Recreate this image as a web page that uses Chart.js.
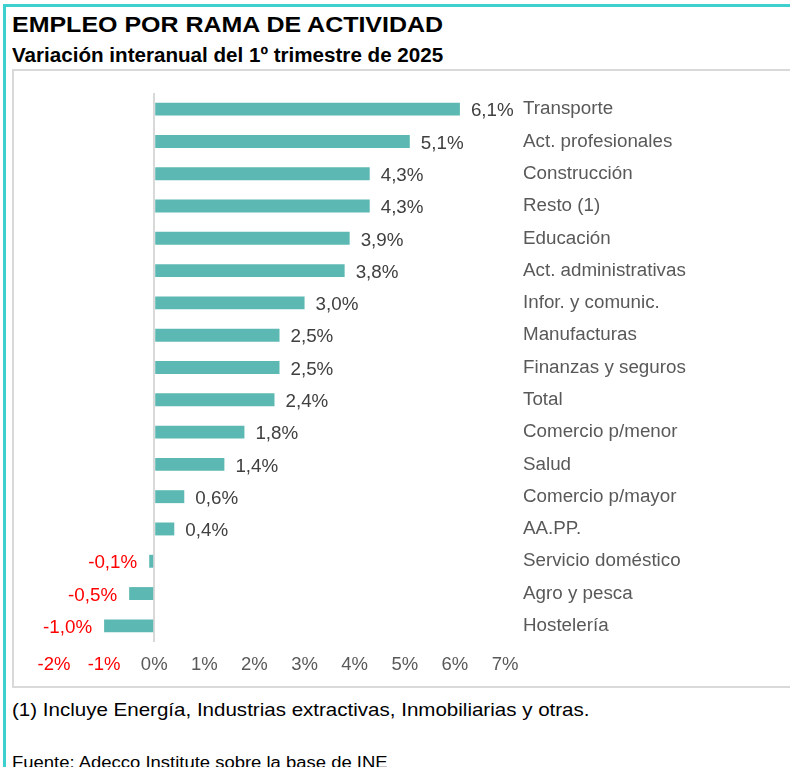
<!DOCTYPE html>
<html>
<head>
    <meta charset="utf-8">
    <title>Empleo por rama de actividad</title>
    <script src="https://cdn.jsdelivr.net/npm/chart.js"></script>
    <style>
        body { margin: 0; width: 790px; height: 767px; overflow: hidden; position: relative; background: #fff;
               font-family: Arial, "Liberation Sans", sans-serif; }
        #frame { position: absolute; left: 3px; top: 4px; width: 820px; height: 820px;
                 border-left: 3px solid #3ecfcf; border-top: 3px solid #3ecfcf; }
        .txt { position: absolute; left: 12px; line-height: 1; color: #000; white-space: nowrap; transform-origin: 0 0; }
        #title { top: 14px; font-size: 22.5px; font-weight: bold; transform: scaleX(1.11); }
        #subtitle { top: 45px; font-size: 20px; font-weight: bold; transform: scaleX(1.03); }
        #box { position: absolute; left: 12px; top: 69px; width: 820px; height: 615px; border: 2px solid #d9d9d9; }
        #myChart { position: absolute; left: 12px; top: 69px; }
        #note { top: 701px; font-size: 18.5px; transform: scaleX(1.11); }
        #source { top: 755px; font-size: 16.8px; transform: scaleX(1.10); }
    </style>
</head>
<body>
    <div id="frame"></div>
    <div id="title" class="txt">EMPLEO POR RAMA DE ACTIVIDAD</div>
    <div id="subtitle" class="txt">Variación interanual del 1º trimestre de 2025</div>
    <div id="box"></div>
    <canvas id="myChart" width="778" height="617"></canvas>
    <div id="note" class="txt">(1) Incluye Energía, Industrias extractivas, Inmobiliarias y otras.</div>
    <div id="source" class="txt">Fuente: Adecco Institute sobre la base de INE</div>

    <script>
        // sectors, top to bottom
        const ramas = ['Transporte', 'Act. profesionales', 'Construcción', 'Resto (1)', 'Educación',
            'Act. administrativas', 'Infor. y comunic.', 'Manufacturas', 'Finanzas y seguros', 'Total',
            'Comercio p/menor', 'Salud', 'Comercio p/mayor', 'AA.PP.', 'Servicio doméstico',
            'Agro y pesca', 'Hostelería'];
        // year-on-year change, %
        const variacion = [6.1, 5.1, 4.3, 4.3, 3.9, 3.8, 3.0, 2.5, 2.5, 2.4, 1.8, 1.4, 0.6, 0.4, -0.1, -0.5, -1.0];
        // x axis ticks
        const ejeMin = -2;
        const ejeMax = 7;

        const FONT = 'Arial, "Liberation Sans", sans-serif';
        const RED = '#ff0000';

        // value labels next to bar ends
        const etiquetas = {
            id: 'etiquetas',
            afterDatasetsDraw(chart) {
                const ctx = chart.ctx;
                const meta = chart.getDatasetMeta(0);
                ctx.save();
                ctx.font = '18.8px ' + FONT;
                ctx.textBaseline = 'middle';
                meta.data.forEach((bar, i) => {
                    const v = variacion[i];
                    const txt = v.toFixed(1).replace('.', ',') + '%';
                    if (v < 0) {
                        ctx.fillStyle = RED;
                        ctx.textAlign = 'right';
                        ctx.fillText(txt, bar.x - 12, bar.y + 2);
                    } else {
                        ctx.fillStyle = '#404040';
                        ctx.textAlign = 'left';
                        ctx.fillText(txt, bar.x + 11, bar.y + 2);
                    }
                });
                ctx.restore();
            }
        };

        const ctx = document.getElementById('myChart').getContext('2d');
        const chart = new Chart(ctx, {
            type: 'bar',
            data: {
                labels: ramas,
                datasets: [{
                    data: variacion,
                    backgroundColor: '#5cb8b2',
                    borderWidth: 0,
                    barPercentage: 0.8,
                    categoryPercentage: 0.5
                }]
            },
            options: {
                indexAxis: 'y',
                responsive: false,
                animation: false,
                layout: { padding: { left: 42, top: 24, right: 0, bottom: 0 } },
                plugins: { legend: { display: false }, tooltip: { enabled: false } },
                scales: {
                    x: {
                        min: ejeMin, max: ejeMax,
                        afterFit: s => { s.height = 44; },
                        border: { display: false },
                        grid: {
                            drawTicks: false,
                            lineWidth: 2,
                            color: c => c.tick && c.tick.value === 0 ? '#d9d9d9' : 'rgba(0,0,0,0)'
                        },
                        ticks: {
                            stepSize: 1,
                            padding: 12,
                            font: { family: FONT, size: 18.5 },
                            color: c => c.tick.value < 0 ? RED : '#595959',
                            callback: v => v + '%'
                        }
                    },
                    y: {
                        position: 'right',
                        afterFit: s => { s.width = 285; s.paddingTop = 0; s.paddingBottom = 0; },
                        border: { display: false },
                        grid: { display: false, drawTicks: false },
                        ticks: {
                            padding: 18,
                            font: { family: FONT, size: 18.8 },
                            color: '#595959'
                        }
                    }
                }
            },
            plugins: [etiquetas]
        });
    </script>
</body>
</html>
